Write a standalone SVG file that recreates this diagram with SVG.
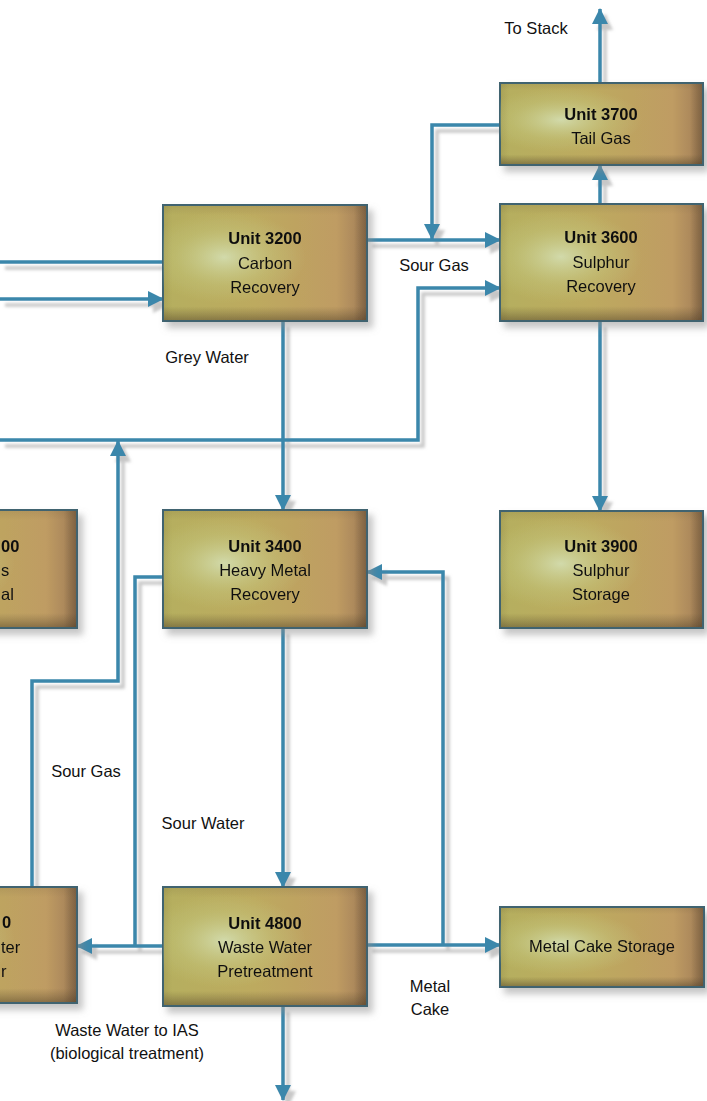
<svg xmlns="http://www.w3.org/2000/svg" width="707" height="1101" viewBox="0 0 707 1101">
<defs>
<style>
.box{fill:url(#boxg);stroke:#3f6470;stroke-width:2}
.hl{fill:url(#hlg);stroke:none}
.sh{fill:url(#shb);stroke:none}
.shr{fill:url(#shr);stroke:none}
.t{font-family:"Liberation Sans",Arial,Helvetica,sans-serif;font-size:16.5px;fill:#111;text-anchor:middle}
.b{font-weight:bold}
.s{text-anchor:start}
.c{fill:none;stroke:#3b87ab;stroke-width:3.5;stroke-linejoin:miter}
.a{marker-end:url(#arr)}
</style>
<linearGradient id="boxg" x1="0" y1="0" x2="1" y2="0">
<stop offset="0" stop-color="#b5af5e"/>
<stop offset="0.45" stop-color="#bdaa5f"/>
<stop offset="0.85" stop-color="#bf9c63"/>
<stop offset="1" stop-color="#a07c56"/>
</linearGradient>
<radialGradient id="hlg" cx="0.3" cy="0.45" r="0.4">
<stop offset="0" stop-color="#d6e2b8" stop-opacity="0.85"/>
<stop offset="0.6" stop-color="#c8cf88" stop-opacity="0.35"/>
<stop offset="1" stop-color="#c8cf88" stop-opacity="0"/>
</radialGradient>
<linearGradient id="shb" x1="0" y1="0" x2="0" y2="1">
<stop offset="0" stop-color="#5a4a30" stop-opacity="0.12"/>
<stop offset="0.08" stop-color="#5a4a30" stop-opacity="0"/>
<stop offset="0.88" stop-color="#5a4a30" stop-opacity="0"/>
<stop offset="1" stop-color="#4a3a25" stop-opacity="0.45"/>
</linearGradient>
<linearGradient id="shr" x1="0" y1="0" x2="1" y2="0">
<stop offset="0" stop-color="#4a3a25" stop-opacity="0.1"/>
<stop offset="0.04" stop-color="#4a3a25" stop-opacity="0"/>
<stop offset="0.94" stop-color="#4a3a25" stop-opacity="0"/>
<stop offset="1" stop-color="#4a3a25" stop-opacity="0.4"/>
</linearGradient>
<filter id="bshadow" x="-10%" y="-10%" width="125%" height="130%">
<feDropShadow dx="5" dy="6" stdDeviation="3.5" flood-color="#8a8a8a" flood-opacity="0.5"/>
</filter>
<filter id="cshadow" x="-5%" y="-5%" width="110%" height="110%">
<feDropShadow dx="5" dy="6" stdDeviation="1.8" flood-color="#9a9a9a" flood-opacity="0.55"/>
</filter>
<marker id="arr" viewBox="0 0 16 16" refX="15" refY="8" markerWidth="16" markerHeight="16" markerUnits="userSpaceOnUse" orient="auto">
<path d="M0,0 L16,8 L0,16 Z" fill="#3b87ab"/>
</marker>
</defs>
<rect x="0" y="0" width="707" height="1101" fill="#ffffff"/>

<g id="connectors" filter="url(#cshadow)">
<path class="c" d="M163,262 H0"/>
<path class="c a" d="M0,299 H163"/>
<path class="c a" d="M367,240 H500"/>
<path class="c a" d="M500,125 H432 V239"/>
<path class="c a" d="M600,204 V165"/>
<path class="c a" d="M600,83 V9"/>
<path class="c a" d="M0,440 H418 V288 H500"/>
<path class="c a" d="M283,321 V510"/>
<path class="c a" d="M600,321 V511"/>
<path class="c a" d="M32,887 V681 H118 V441"/>
<path class="c" d="M163,577 H135 V946"/>
<path class="c a" d="M163,946 H77"/>
<path class="c a" d="M283,628 V887"/>
<path class="c a" d="M283,1006 V1100"/>
<path class="c a" d="M367,945 H500"/>
<path class="c a" d="M443,945 V572 H367"/>
</g>

<g id="unit3200" filter="url(#bshadow)">
<rect class="box" x="163" y="205" width="204" height="116"/>
<rect class="hl" x="163" y="205" width="204" height="116"/>
<rect class="sh" x="164" y="206" width="202" height="114"/>
<rect class="shr" x="164" y="206" width="202" height="114"/>
<text class="t b" x="265" y="244">Unit 3200</text>
<text class="t" x="265" y="269">Carbon</text>
<text class="t" x="265" y="293">Recovery</text>
</g>

<g id="unit3700" filter="url(#bshadow)">
<rect class="box" x="500" y="83" width="203" height="82"/>
<rect class="hl" x="500" y="83" width="203" height="82"/>
<rect class="sh" x="501" y="84" width="201" height="80"/>
<rect class="shr" x="501" y="84" width="201" height="80"/>
<text class="t b" x="601" y="120">Unit 3700</text>
<text class="t" x="601" y="144">Tail Gas</text>
</g>

<g id="unit3600" filter="url(#bshadow)">
<rect class="box" x="500" y="204" width="203" height="117"/>
<rect class="hl" x="500" y="204" width="203" height="117"/>
<rect class="sh" x="501" y="205" width="201" height="115"/>
<rect class="shr" x="501" y="205" width="201" height="115"/>
<text class="t b" x="601" y="243">Unit 3600</text>
<text class="t" x="601" y="268">Sulphur</text>
<text class="t" x="601" y="292">Recovery</text>
</g>

<g id="unit3x00-left" filter="url(#bshadow)">
<rect class="box" x="-130" y="510" width="207" height="118"/>
<rect class="hl" x="-130" y="510" width="207" height="118"/>
<rect class="sh" x="-129" y="511" width="205" height="116"/>
<rect class="shr" x="-129" y="511" width="205" height="116"/>
<text class="t b s" x="1" y="552">00</text>
<text class="t s" x="1" y="576">s</text>
<text class="t s" x="1" y="600">al</text>
</g>

<g id="unit3400" filter="url(#bshadow)">
<rect class="box" x="163" y="510" width="204" height="118"/>
<rect class="hl" x="163" y="510" width="204" height="118"/>
<rect class="sh" x="164" y="511" width="202" height="116"/>
<rect class="shr" x="164" y="511" width="202" height="116"/>
<text class="t b" x="265" y="552">Unit 3400</text>
<text class="t" x="265" y="576">Heavy Metal</text>
<text class="t" x="265" y="600">Recovery</text>
</g>

<g id="unit3900" filter="url(#bshadow)">
<rect class="box" x="500" y="511" width="203" height="117"/>
<rect class="hl" x="500" y="511" width="203" height="117"/>
<rect class="sh" x="501" y="512" width="201" height="115"/>
<rect class="shr" x="501" y="512" width="201" height="115"/>
<text class="t b" x="601" y="552">Unit 3900</text>
<text class="t" x="601" y="576">Sulphur</text>
<text class="t" x="601" y="600">Storage</text>
</g>

<g id="unit4x00-left" filter="url(#bshadow)">
<rect class="box" x="-130" y="887" width="207" height="116"/>
<rect class="hl" x="-130" y="887" width="207" height="116"/>
<rect class="sh" x="-129" y="888" width="205" height="114"/>
<rect class="shr" x="-129" y="888" width="205" height="114"/>
<text class="t b s" x="2" y="928">0</text>
<text class="t s" x="1" y="953">ter</text>
<text class="t s" x="1" y="977">r</text>
</g>

<g id="unit4800" filter="url(#bshadow)">
<rect class="box" x="163" y="887" width="204" height="119"/>
<rect class="hl" x="163" y="887" width="204" height="119"/>
<rect class="sh" x="164" y="888" width="202" height="117"/>
<rect class="shr" x="164" y="888" width="202" height="117"/>
<text class="t b" x="265" y="929">Unit 4800</text>
<text class="t" x="265" y="953">Waste Water</text>
<text class="t" x="265" y="977">Pretreatment</text>
</g>

<g id="metalcake" filter="url(#bshadow)">
<rect class="box" x="500" y="907" width="204" height="80"/>
<rect class="hl" x="500" y="907" width="204" height="80"/>
<rect class="sh" x="501" y="908" width="202" height="78"/>
<rect class="shr" x="501" y="908" width="202" height="78"/>
<text class="t" x="602" y="952">Metal Cake Storage</text>
</g>

<g id="labels">
<text class="t" x="536" y="34">To Stack</text>
<text class="t" x="434" y="271">Sour Gas</text>
<text class="t" x="207" y="363">Grey Water</text>
<text class="t" x="86" y="777">Sour Gas</text>
<text class="t" x="203" y="829">Sour Water</text>
<text class="t" x="430" y="992">Metal</text>
<text class="t" x="430" y="1015">Cake</text>
<text class="t" x="127" y="1036">Waste Water to IAS</text>
<text class="t" x="127" y="1059">(biological treatment)</text>
</g>
</svg>
